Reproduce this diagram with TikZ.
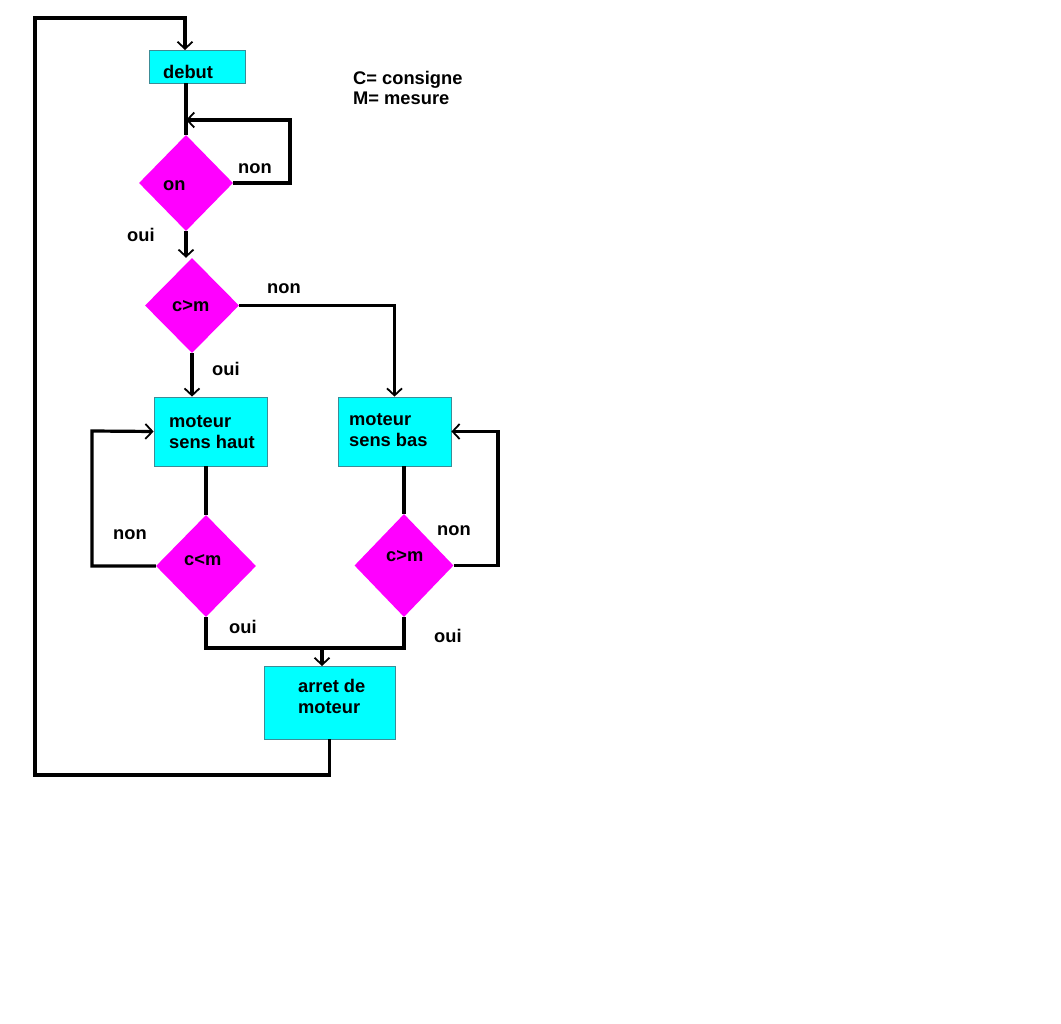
\documentclass[tikz,border=0pt]{standalone}
\usepackage{fontspec}
\setmainfont{Liberation Sans}
\usetikzlibrary{arrows.meta,shapes.geometric}
\definecolor{cy}{RGB}{0,255,255}
\definecolor{mg}{RGB}{255,0,255}
\definecolor{boxline}{RGB}{60,140,150}
\begin{document}
\begin{tikzpicture}[x=1pt,y=-1pt,
  box/.style={draw=boxline,line width=0.8pt,fill=cy,inner sep=0pt,minimum width=#1},
  dia/.style={diamond,fill=mg,inner sep=0pt,aspect=1},
  lbl/.style={anchor=base west,inner sep=0pt,font=\fontsize{18.3}{21}\selectfont\bfseries},
  conn/.style={line width=3.2pt,line join=miter},
  arr/.style={conn,-{Straight Barb[length=7pt,width=15pt,line width=1.8pt]}}]
\useasboundingbox (0,0) rectangle (1061,1024);
\fill[white] (0,0) rectangle (1061,1024);
% boxes
\node[box=96pt,minimum height=33pt] (debut) at (197,66.5) {};
\node[box=113pt,minimum height=69pt] (haut) at (210.5,431.5) {};
\node[box=113pt,minimum height=69pt] (bas) at (394.5,431.5) {};
\node[box=131pt,minimum height=73pt] (arret) at (329.5,702.5) {};
% diamonds
\node[dia,minimum width=94pt,minimum height=96pt] (on) at (186,183) {};
\node[dia,minimum width=94pt,minimum height=95pt] (cm) at (192,305.5) {};
\node[dia,minimum width=100pt,minimum height=102pt] (clt) at (206,566) {};
\node[dia,minimum width=99pt,minimum height=103pt] (cgt) at (404,565.5) {};
% texts
\node[lbl] (tdebut) at (163,79) {debut};
\node[lbl] (leg1) at (353,85) {C= consigne};
\node[lbl] (leg2) at (353,105) {M= mesure};
\node[lbl] (ton) at (163,191) {on};
\node[lbl] (non1) at (238,174) {non};
\node[lbl] (oui1) at (127,242) {oui};
\node[lbl] (tcm) at (172,312) {c>m};
\node[lbl] (non2) at (267,294) {non};
\node[lbl] (oui2) at (212,376) {oui};
\node[lbl,align=left,anchor=north west] (thaut) at (169,415) {moteur\\sens haut};
\node[lbl,align=left,anchor=north west] (tbas) at (349,413) {moteur\\sens bas};
\node[lbl] (non3) at (113,539) {non};
\node[lbl] (tclt) at (184,565) {c<m};
\node[lbl] (oui3) at (229,633) {oui};
\node[lbl] (non4) at (437,535) {non};
\node[lbl] (tcgt) at (386,561) {c>m};
\node[lbl] (oui4) at (434,642) {oui};
\node[lbl,align=left,anchor=north west] (tarret) at (298,679) {arret de\\moteur};
% coordinates
\coordinate (dtop) at (185,50);
\coordinate (r1) at (290,120);
\coordinate (bl) at (35,775);
\coordinate (tl) at (35,18);
\coordinate (lp) at (92,431);
\coordinate (rp) at (498,566);
\coordinate (ljoin) at (206,648);
\coordinate (mjoin) at (322,648);
\coordinate (atop) at (322,666);
% connectors
\draw[arr] (arret.south) |- (bl) -- (tl) -| (dtop);
\draw[conn] (on.north |- debut.south) -- (on.north);
\draw[arr] (on.east) -| (r1) -- (on.north |- r1);
\draw[arr] (on.south) -- (on.south |- cm.north);
\draw[arr] (cm.east) -| (bas.north);
\draw[arr] (cm.south) -- (cm.south |- haut.north);
\draw[conn] (clt.north |- haut.south) -- (clt.north);
\draw[conn] (cgt.north |- bas.south) -- (cgt.north);
\draw[arr] (clt.west) -| (lp) -- (haut.west);
\draw[arr] (cgt.east) -| (rp |- bas.east) -- (bas.east);
\draw[conn] (clt.south) -- (ljoin) -| (cgt.south);
\draw[arr] (mjoin) -- (atop);
\end{tikzpicture}
\end{document}
